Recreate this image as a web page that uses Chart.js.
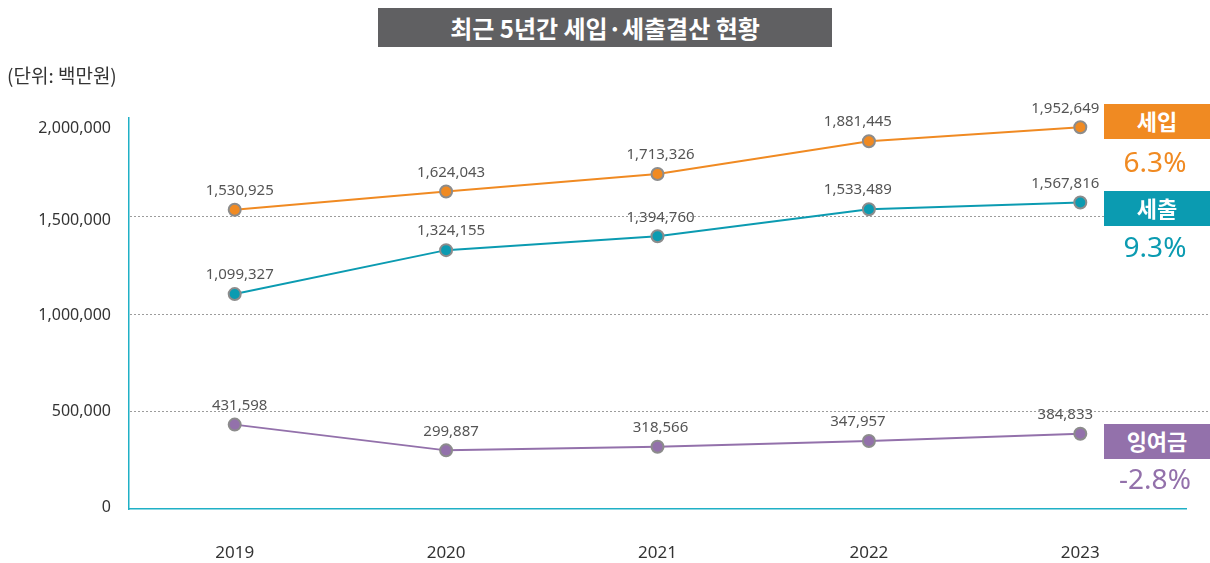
<!DOCTYPE html>
<html>
<head>
<meta charset="utf-8">
<script src="https://cdn.jsdelivr.net/npm/chart.js@4.4.0/dist/chart.umd.min.js"></script>
<style>
  html, body { margin: 0; padding: 0; background: #fff; }
  #wrap { position: relative; width: 1210px; height: 563px; overflow: hidden; font-family: "Noto Sans", "Noto Sans CJK KR", sans-serif; }
  #c { position: absolute; left: 0; top: 0; }
  #title { position: absolute; left: 378px; top: 8px; width: 454px; height: 39px; background: #606062; color: #fff;
           font: bold 24px "Noto Sans CJK KR", sans-serif; text-align: center; line-height: 39px; }
  #unit { position: absolute; left: 7px; top: 61px; font: 19px "Noto Sans CJK KR", sans-serif; color: #333; line-height: 28px; }
  .tag { position: absolute; left: 1104px; width: 106px; height: 35px; color: #fff; text-align: center; line-height: 35px;
         font: bold 22px "Noto Sans CJK KR", sans-serif; }
  .rate { position: absolute; left: 1100px; width: 110px; text-align: center; font: 28px "Noto Sans", sans-serif; line-height: 32px; }
</style>
</head>
<body>
<div id="wrap">
  <canvas id="c" width="1210" height="563"></canvas>
  <div id="title">최근 5년간 세입·세출결산 현황</div>
  <div id="unit">(단위: 백만원)</div>
  <div id="legend"></div>
</div>
<script>
const years = ['2019', '2020', '2021', '2022', '2023'];
const revenue = [1530925, 1624043, 1713326, 1881445, 1952649];
const expenditure = [1099327, 1324155, 1394760, 1533489, 1567816];
const surplus = [431598, 299887, 318566, 347957, 384833];
const seriesNames = ['세입', '세출', '잉여금'];
const seriesRates = ['6.3%', '9.3%', '-2.8%'];
const yTicks = [0, 500000, 1000000, 1500000, 2000000];

// styling / placement
const colors = ['#f08a22', '#0b9bb1', '#9371ab'];
const tagTops = [104, 191, 424];
const rateTops = [145, 230, 462];
const labelDx = [5, 5, 3, -11, -15];
const labelDy = -19;
const yLabelNudge = [-2, 0, 2, 5, 10];

// legend tags (HTML text)
const legend = document.getElementById('legend');
seriesNames.forEach((n, i) => {
  const t = document.createElement('div');
  t.className = 'tag'; t.style.top = tagTops[i] + 'px'; t.style.background = colors[i]; t.textContent = n;
  legend.appendChild(t);
  const r = document.createElement('div');
  r.className = 'rate'; r.style.top = rateTops[i] + 'px'; r.style.color = colors[i]; r.textContent = seriesRates[i];
  legend.appendChild(r);
});

const fmt = v => v.toLocaleString('en-US');

const dottedGrid = {
  id: 'dottedGrid',
  beforeDatasetsDraw(chart) {
    const { ctx, chartArea, scales: { y } } = chart;
    ctx.save();
    ctx.strokeStyle = '#9c9c9c';
    ctx.lineWidth = 1;
    ctx.setLineDash([2, 2]);
    yTicks.forEach(v => {
      if (v === 0 || v === yTicks[yTicks.length - 1]) return;
      const py = Math.round(y.getPixelForValue(v)) + 0.5;
      ctx.beginPath();
      ctx.moveTo(chartArea.left + 1, py);
      ctx.lineTo(chart.width, py);
      ctx.stroke();
    });
    ctx.restore();
    // y tick labels
    ctx.save();
    ctx.font = '16px "Noto Sans", sans-serif';
    ctx.fillStyle = '#333';
    ctx.textAlign = 'right';
    ctx.textBaseline = 'middle';
    yTicks.forEach((v, i) => {
      ctx.fillText(fmt(v), chartArea.left - 18, y.getPixelForValue(v) + yLabelNudge[i]);
    });
    ctx.restore();
  }
};

const valueLabels = {
  id: 'valueLabels',
  afterDatasetsDraw(chart) {
    const { ctx } = chart;
    ctx.save();
    ctx.font = '15px "Noto Sans", sans-serif';
    ctx.fillStyle = '#555';
    ctx.textAlign = 'center';
    ctx.textBaseline = 'middle';
    chart.data.datasets.forEach((ds, i) => {
      const meta = chart.getDatasetMeta(i);
      meta.data.forEach((pt, j) => {
        ctx.fillText(fmt(ds.data[j]), pt.x + labelDx[j], pt.y + labelDy);
      });
    });
    ctx.restore();
  }
};

function ds(label, data, color) {
  return {
    label, data,
    borderColor: color, borderWidth: 2,
    pointBackgroundColor: color, pointBorderColor: '#8c8c8c', pointBorderWidth: 2,
    pointRadius: 6, pointHoverRadius: 6, tension: 0, fill: false
  };
}

new Chart(document.getElementById('c'), {
  type: 'line',
  data: {
    labels: years,
    datasets: [
      ds(seriesNames[0], revenue, colors[0]),
      ds(seriesNames[1], expenditure, colors[1]),
      ds(seriesNames[2], surplus, colors[2])
    ]
  },
  options: {
    responsive: false,
    animation: false,
    events: [],
    layout: { padding: { left: 0, right: 24, top: 118, bottom: 0 } },
    plugins: { legend: { display: false }, tooltip: { enabled: false }, title: { display: false } },
    scales: {
      x: {
        type: 'category',
        offset: true,
        grid: { display: false, drawTicks: false },
        border: { display: true, color: '#1fb0c6', width: 1.5 },
        ticks: { color: '#333', font: { size: 17, family: '"Noto Sans", sans-serif' }, padding: 34, maxRotation: 0 },
        afterFit(s) { s.height = 54; }
      },
      y: {
        min: 0, max: 2000000,
        afterBuildTicks(s) { s.ticks = yTicks.map(v => ({ value: v })); },
        grid: { display: false, drawTicks: false },
        border: { display: true, color: '#1fb0c6', width: 1.5 },
        ticks: { display: false },
        afterFit(s) { s.width = 129; }
      }
    }
  },
  plugins: [dottedGrid, valueLabels]
});
</script>
</body>
</html>
